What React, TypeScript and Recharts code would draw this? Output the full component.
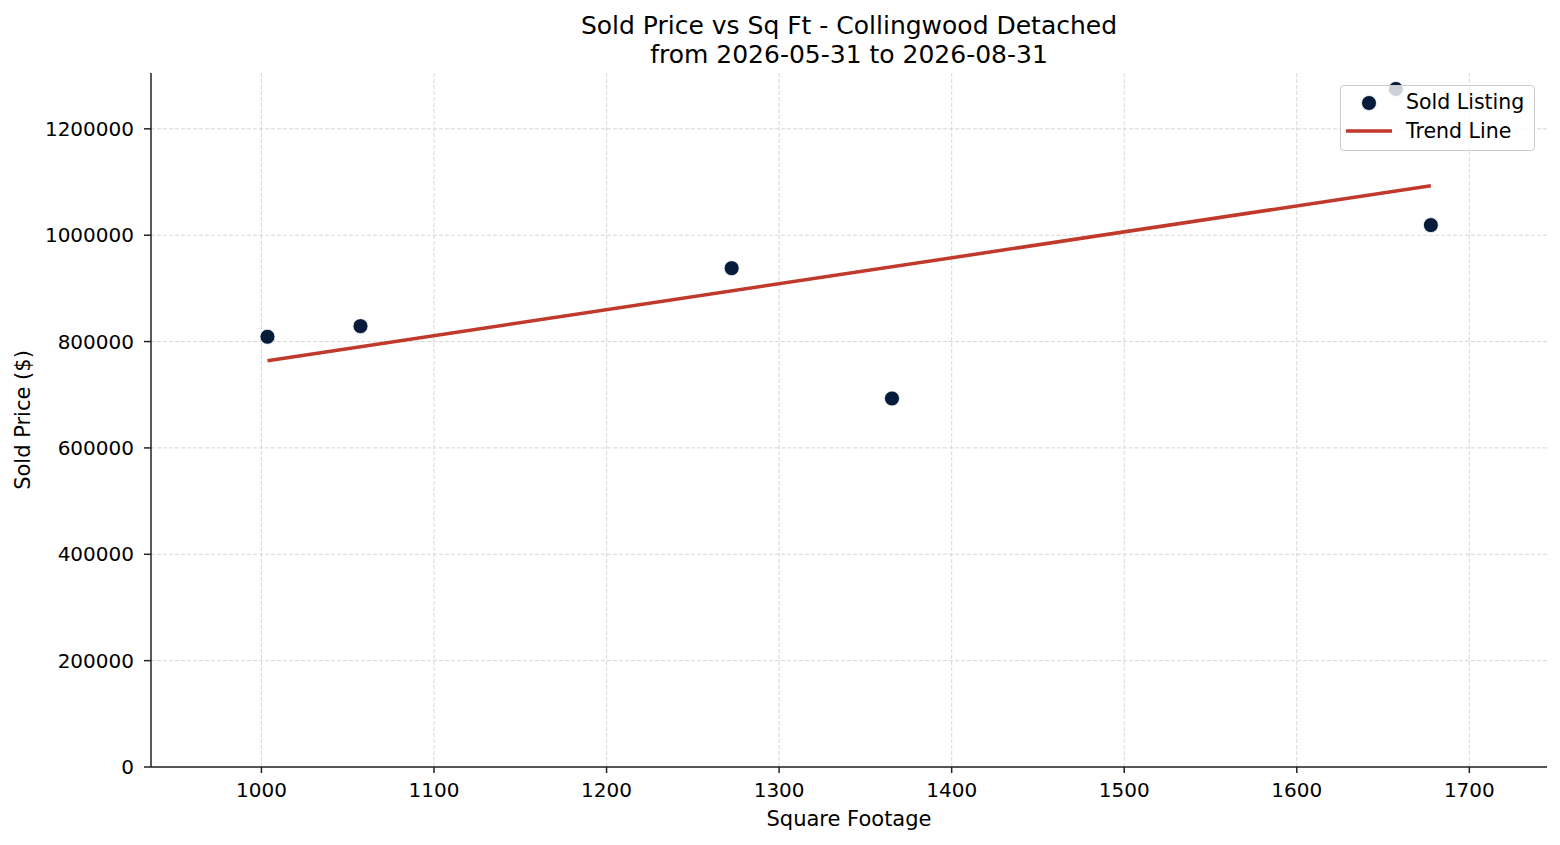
import React from "react";
import {
  CartesianGrid,
  Legend,
  Scatter,
  ScatterChart,
  XAxis,
  YAxis,
} from "recharts";

// values
const sqft = [1003.5, 1057.4, 1272.5, 1365.4, 1677.7, 1657.4];
const soldPrice = [809000, 829000, 938000, 693000, 1019000, 1275000];

const trendSqft = [1003.5, 1677.7];
const trendPrice = [764000, 1093000];

const xTicks = [1000, 1100, 1200, 1300, 1400, 1500, 1600, 1700];
const yTicks = [0, 200000, 400000, 600000, 800000, 1000000, 1200000];

const titleLines = [
  "Sold Price vs Sq Ft - Collingwood Detached",
  "from 2026-05-31 to 2026-08-31",
];

const listings = sqft.map((x, i) => ({ x, y: soldPrice[i] }));
const trend = trendSqft.map((x, i) => ({ x, y: trendPrice[i] }));

const FONT = "'DejaVu Sans', sans-serif";
const NAVY = "#061c3a";
const RED = "#c0392b";
const AXIS = "#222222";

function Dot(props: any) {
  const { cx, cy } = props;
  if (cx == null || cy == null) return <g />;
  return <circle cx={cx} cy={cy} r={7.5} fill={NAVY} stroke="#ffffff" strokeWidth={0.8} />;
}

function LegendBox() {
  return (
    <div
      style={{
        width: 195,
        height: 66,
        boxSizing: "border-box",
        border: "1px solid #cccccc",
        borderRadius: 4,
        background: "rgba(255,255,255,0.8)",
      }}
    >
      <svg width={195} height={66} style={{ position: "absolute", left: 0, top: 0 }}>
        <circle cx={29} cy={18} r={7.5} fill={NAVY} stroke="#ffffff" strokeWidth={0.8} />
        <text x={66} y={24.3} fontSize={20.5} fontFamily={FONT} fill="#000">
          Sold Listing
        </text>
        <line x1={6} x2={52} y1={46} y2={46} stroke={RED} strokeWidth={3.5} />
        <text x={66} y={53.3} fontSize={20.5} fontFamily={FONT} fill="#000">
          Trend Line
        </text>
      </svg>
    </div>
  );
}

export default function App() {
  return (
    <div
      style={{
        position: "absolute",
        left: 0,
        top: 0,
        width: 1560,
        height: 845,
        background: "#ffffff",
        fontFamily: FONT,
      }}
    >
      <div
        style={{
          position: "absolute",
          left: 151,
          top: 11,
          width: 1396,
          textAlign: "center",
          fontSize: 25,
          lineHeight: "29px",
          color: "#000",
        }}
      >
        {titleLines.map((line) => (
          <div key={line}>{line}</div>
        ))}
      </div>
      <ScatterChart
        width={1560}
        height={845}
        margin={{ top: 73, right: 13, bottom: 0, left: 0 }}
      >
        <CartesianGrid
          stroke="#d2d2d2"
          strokeDasharray="4 2"
          strokeWidth={0.9}
          horizontalValues={yTicks}
          verticalValues={xTicks}
        />
        <XAxis
          type="number"
          dataKey="x"
          domain={[936, 1745]}
          allowDataOverflow
          ticks={xTicks}
          height={78}
          tickSize={6}
          tickMargin={10}
          stroke={AXIS}
          strokeWidth={1.5}
          tick={{ fontSize: 20, fill: "#000", fontFamily: FONT }}
          label={{
            value: "Square Footage",
            position: "insideBottom",
            offset: 19,
            style: { fontSize: 21, fill: "#000", fontFamily: FONT },
          }}
        />
        <YAxis
          type="number"
          dataKey="y"
          domain={[0, 1305000]}
          allowDataOverflow
          ticks={yTicks}
          width={151}
          tickSize={7}
          tickMargin={10}
          stroke={AXIS}
          strokeWidth={1.5}
          tick={{ fontSize: 20, fill: "#000", fontFamily: FONT }}
          label={{
            value: "Sold Price ($)",
            angle: -90,
            position: "insideLeft",
            offset: 23,
            style: { fontSize: 21, fill: "#000", fontFamily: FONT, textAnchor: "middle" },
          }}
        />
        <Legend
          verticalAlign="middle"
          align="center"
          content={() => <LegendBox />}
          wrapperStyle={{ left: 1340, top: 85, width: 195, height: 66 }}
        />
        <Scatter
          name="Sold Listing"
          data={listings}
          shape={Dot}
          isAnimationActive={false}
        />
        <Scatter
          name="Trend Line"
          data={trend}
          line={{ stroke: RED, strokeWidth: 3.5 }}
          shape={() => <g />}
          isAnimationActive={false}
        />
      </ScatterChart>
    </div>
  );
}
